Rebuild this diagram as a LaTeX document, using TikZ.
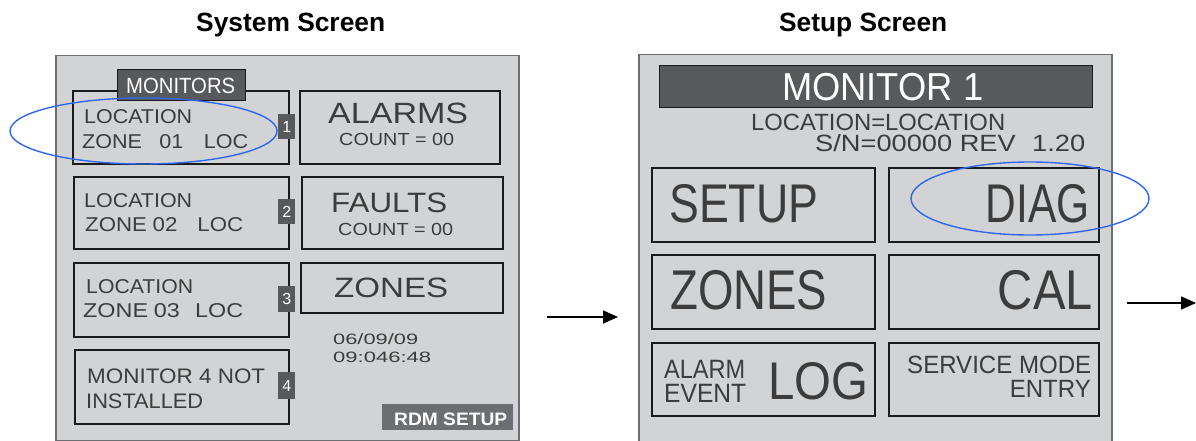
\documentclass[tikz,border=0pt]{standalone}
\usepackage{fontspec}
\setmainfont{Liberation Sans}
\usetikzlibrary{arrows.meta}
\definecolor{panelfill}{HTML}{D1D3D4}
\definecolor{paneledge}{HTML}{6D6E71}
\definecolor{darkbar}{HTML}{58595B}
\definecolor{rdmfill}{HTML}{6D6E71}
\definecolor{lcdtext}{HTML}{3C3C3C}
\definecolor{keyedge}{HTML}{1A1A1A}
\definecolor{ringblue}{HTML}{3366F0}
% font size in pt, and horizontal fit of a text to a given width
\newcommand{\fs}[1]{\fontsize{#1pt}{#1pt}\selectfont}
\newcommand{\fitw}[2]{\resizebox{#1pt}{\height}{#2}}
\begin{document}
\begin{tikzpicture}[x=1pt,y=-1pt,
  panel/.style={draw=paneledge, fill=panelfill, line width=1.5pt, inner sep=0pt, anchor=north west},
  key/.style={draw=keyedge, fill=panelfill, line width=2pt, inner sep=0pt, anchor=north west},
  bar/.style={draw=keyedge, fill=darkbar, line width=0.8pt, inner sep=0pt, anchor=north west},
  tag/.style={fill=darkbar, text=white, inner sep=0pt, anchor=north west, minimum width=17pt, font=\fs{16}},
  lcd/.style={text=lcdtext, inner sep=0pt, anchor=base west},
  lcdr/.style={lcd, anchor=base east},
  title/.style={inner sep=0pt, anchor=base west, font=\bfseries\fs{26.4}},
  ring/.style={draw=ringblue, line width=1.4pt},
  flow/.style={line width=1.6pt, -{Triangle[length=15pt,width=13pt]}}
]
\useasboundingbox (0,0) rectangle (1196,441);

% headings
\node[title] (tsys) at (196,32) {\fitw{189}{System Screen}};
\node[title] (tset) at (779,32) {\fitw{168}{Setup Screen}};

% ---------------- system screen ----------------
\node[panel, minimum width=463pt, minimum height=385pt] (sys) at (55,55) {};

\node[key, minimum width=216pt, minimum height=73pt] (mon1) at (72,90) {};
\node[key, minimum width=215pt, minimum height=72pt] (mon2) at (73,176) {};
\node[key, minimum width=215pt, minimum height=74pt] (mon3) at (73,262) {};
\node[key, minimum width=214pt, minimum height=74pt] (mon4) at (74,349) {};
\node[key, minimum width=200pt, minimum height=73pt] (alarms) at (299,90) {};
\node[key, minimum width=201pt, minimum height=72pt] (faults) at (301,176) {};
\node[key, minimum width=202pt, minimum height=50pt] (zonesL) at (300,262) {};

\node[bar, minimum width=128pt, minimum height=31pt] (montab) at (117,69) {};
\node[lcd, text=white, font=\fs{22}] (montabtx) at (126,94) {\fitw{109}{MONITORS}};

\node[tag, minimum height=25pt] (tag1) at (278,114) {1};
\node[tag, minimum height=25pt] (tag2) at (278,199) {2};
\node[tag, minimum height=26pt] (tag3) at (278,286) {3};
\node[tag, minimum height=27pt] (tag4) at (278,372) {4};

\node[lcd, font=\fs{20}] (loc1) at (84,124) {\fitw{108}{LOCATION}};
\node[lcd, font=\fs{20}] (zone1) at (82,149) {\fitw{166}{ZONE\hspace{0.8em}01\hspace{0.95em}LOC}};
\node[lcd, font=\fs{20}] (loc2) at (84,207) {\fitw{108}{LOCATION}};
\node[lcd, font=\fs{20}] (zone2) at (85,231) {\fitw{158}{ZONE\hspace{0.25em}02\hspace{0.9em}LOC}};
\node[lcd, font=\fs{20}] (loc3) at (86,293) {\fitw{107}{LOCATION}};
\node[lcd, font=\fs{20}] (zone3) at (83,317) {\fitw{160}{ZONE\hspace{0.25em}03\hspace{0.65em}LOC}};
\node[lcd, font=\fs{21}] (mon4a) at (87,383) {\fitw{178}{MONITOR 4 NOT}};
\node[lcd, font=\fs{21}] (mon4b) at (86,408) {\fitw{117}{INSTALLED}};

\node[lcd, font=\fs{29.3}] (alarmstx) at (328,124) {\fitw{140}{ALARMS}};
\node[lcd, font=\fs{17.5}] (acount) at (339,146) {\fitw{115}{COUNT = 00}};
\node[lcd, font=\fs{28}] (faultstx) at (331,212) {\fitw{116}{FAULTS}};
\node[lcd, font=\fs{17.5}] (fcount) at (338,235) {\fitw{115}{COUNT = 00}};
\node[lcd, font=\fs{28}] (zonesLtx) at (334,297) {\fitw{114}{ZONES}};
\node[lcd, font=\fs{15}] (date) at (333,344) {\fitw{85}{06/09/09}};
\node[lcd, font=\fs{15}] (time) at (333,362) {\fitw{98}{09:046:48}};

\node[fill=rdmfill, inner sep=0pt, anchor=north west, minimum width=131pt, minimum height=26pt] (rdm) at (382,404) {};
\node[lcd, text=white, font=\bfseries\fs{18}] (rdmtx) at (394,425) {\fitw{113}{RDM SETUP}};

\draw[ring] (143.5,131) ellipse [x radius=133.5pt, y radius=33pt];

% ---------------- setup screen ----------------
\node[panel, minimum width=473pt, minimum height=395pt] (setup) at (638,54) {};
\node[bar, minimum width=433pt, minimum height=42pt] (head) at (659,65) {};
\node[lcd, text=white, font=\fs{39}] (headtx) at (782,101) {\fitw{201}{MONITOR 1}};
\node[lcd, font=\fs{23.5}, text height=17pt, text depth=0pt] (locline) at (751,130.5) {\fitw{254}{LOCATION=LOCATION}};
\node[lcd, font=\fs{23.5}, text height=17pt, text depth=0pt] (snline) at (815,151.5) {\fitw{270}{S/N=00000 REV\hspace{0.6em}1.20}};

\node[key, line width=1.5pt, minimum width=223pt, minimum height=74pt] (ksetup) at (651,167) {};
\node[key, line width=1.5pt, minimum width=210pt, minimum height=74pt] (kdiag) at (888,167) {};
\node[key, line width=1.5pt, minimum width=223pt, minimum height=74pt] (kzones) at (651,254) {};
\node[key, line width=1.5pt, minimum width=210pt, minimum height=74pt] (kcal) at (888,254) {};
\node[key, line width=1.5pt, minimum width=223pt, minimum height=73pt] (klog) at (651,342) {};
\node[key, line width=1.5pt, minimum width=210pt, minimum height=73pt] (kserv) at (888,342) {};

\node[lcd, font=\fs{54.5}] (setuptx) at (669,222) {\fitw{149}{SETUP}};
\node[lcdr, font=\fs{54.5}] (diagtx) at (1090,222) {\fitw{104}{DIAG}};
\node[lcd, font=\fs{56}] (zonestx) at (670,309) {\fitw{157}{ZONES}};
\node[lcdr, font=\fs{56}] (caltx) at (1093,309) {\fitw{95}{CAL}};
\node[lcd, font=\fs{26.5}] (alarmtx) at (664,378) {\fitw{81}{ALARM}};
\node[lcd, font=\fs{26.5}] (eventtx) at (664,402) {\fitw{82}{EVENT}};
\node[lcd, font=\fs{53}] (logtx) at (768,399) {\fitw{100}{LOG}};
\node[lcd, font=\fs{25}] (servtx) at (907,373) {\fitw{184}{SERVICE MODE}};
\node[lcdr, font=\fs{25}] (entrytx) at (1091,397) {\fitw{81}{ENTRY}};

\draw[ring] (1030,198.5) ellipse [x radius=119pt, y radius=36.5pt];

% ---------------- flow arrows ----------------
\coordinate (in1) at (547,317);
\coordinate (out1) at (618,317);
\coordinate (in2) at (1127,303);
\coordinate (out2) at (1196,303);
\draw[flow] (in1) -- (out1);
\draw[flow] (in2) -- (out2);
\end{tikzpicture}
\end{document}
